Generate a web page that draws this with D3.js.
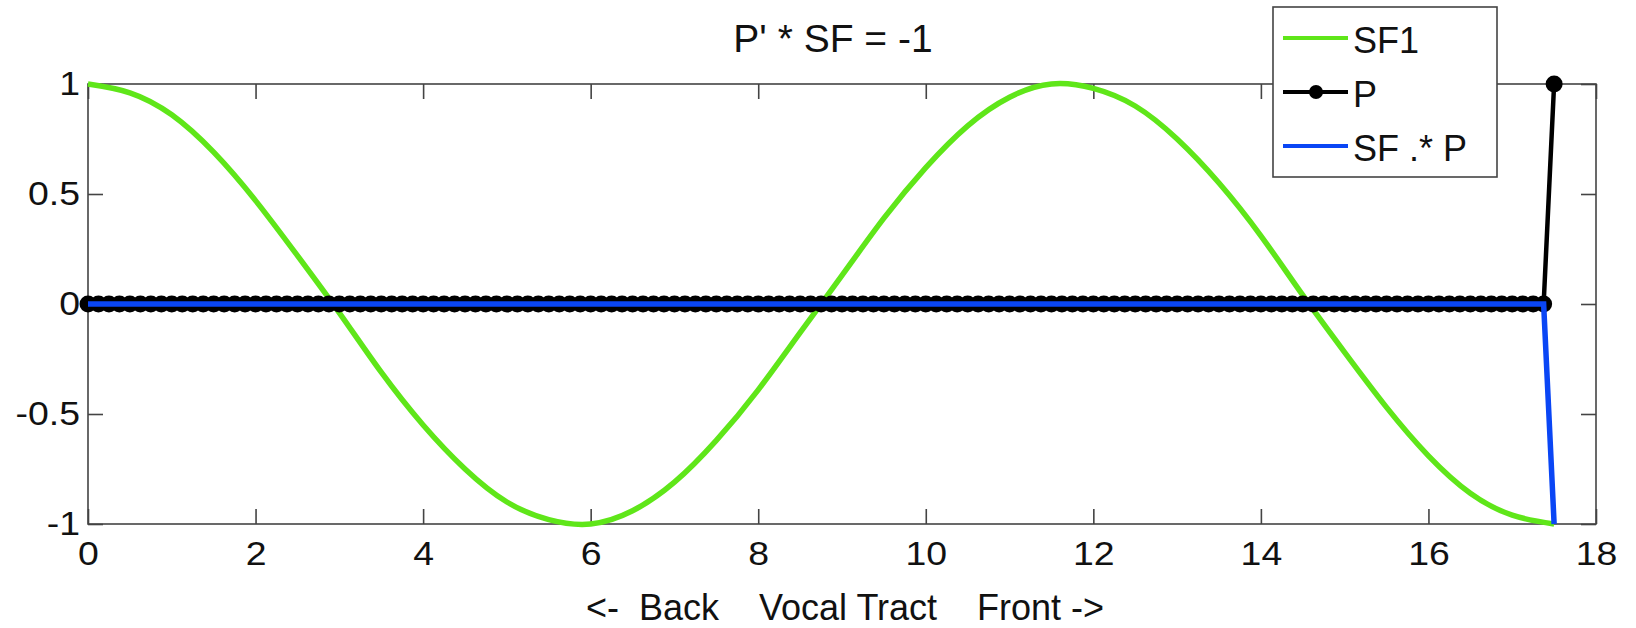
<!DOCTYPE html>
<meta charset="utf-8">
<title>P' * SF = -1</title>
<script src="https://d3js.org/d3.v7.min.js"></script>
<style>
  body { margin: 0; background: #fff; }
  svg text { font-family: "Liberation Sans", Arial, Helvetica, sans-serif; fill: #111; }
</style>
<body>
<svg width="1636" height="628"></svg>
<script>
  // SF1 every 0.5 along the tract
  var sfX = [0, 0.5, 1, 1.5, 2, 2.5, 3, 3.5, 4, 4.5, 5, 5.5, 6, 6.5, 7, 7.5, 8, 8.5,
             9, 9.5, 10, 10.5, 11, 11.5, 12, 12.5, 13, 13.5, 14, 14.5, 15, 15.5, 16, 16.5, 17, 17.5];
  var sf1 = [1, 0.96, 0.86, 0.69, 0.47, 0.22, -0.04, -0.31, -0.55, -0.75, -0.9, -0.98, -1, -0.94, -0.81, -0.62, -0.39, -0.13,
             0.13, 0.39, 0.62, 0.81, 0.94, 1, 0.98, 0.9, 0.75, 0.55, 0.31, 0.04, -0.22, -0.47, -0.69, -0.86, -0.96, -1];

  // P and SF .* P on the sample grid (step 0.125, 141 samples)
  var sampleStep = 0.125;
  var pVals = [0, 0, 0, 0, 0, 0, 0, 0, 0, 0, 0, 0, 0, 0, 0, 0, 0, 0, 0, 0,
               0, 0, 0, 0, 0, 0, 0, 0, 0, 0, 0, 0, 0, 0, 0, 0, 0, 0, 0, 0,
               0, 0, 0, 0, 0, 0, 0, 0, 0, 0, 0, 0, 0, 0, 0, 0, 0, 0, 0, 0,
               0, 0, 0, 0, 0, 0, 0, 0, 0, 0, 0, 0, 0, 0, 0, 0, 0, 0, 0, 0,
               0, 0, 0, 0, 0, 0, 0, 0, 0, 0, 0, 0, 0, 0, 0, 0, 0, 0, 0, 0,
               0, 0, 0, 0, 0, 0, 0, 0, 0, 0, 0, 0, 0, 0, 0, 0, 0, 0, 0, 0,
               0, 0, 0, 0, 0, 0, 0, 0, 0, 0, 0, 0, 0, 0, 0, 0, 0, 0, 0, 0, 1];
  var sfpVals = [0, 0, 0, 0, 0, 0, 0, 0, 0, 0, 0, 0, 0, 0, 0, 0, 0, 0, 0, 0,
                 0, 0, 0, 0, 0, 0, 0, 0, 0, 0, 0, 0, 0, 0, 0, 0, 0, 0, 0, 0,
                 0, 0, 0, 0, 0, 0, 0, 0, 0, 0, 0, 0, 0, 0, 0, 0, 0, 0, 0, 0,
                 0, 0, 0, 0, 0, 0, 0, 0, 0, 0, 0, 0, 0, 0, 0, 0, 0, 0, 0, 0,
                 0, 0, 0, 0, 0, 0, 0, 0, 0, 0, 0, 0, 0, 0, 0, 0, 0, 0, 0, 0,
                 0, 0, 0, 0, 0, 0, 0, 0, 0, 0, 0, 0, 0, 0, 0, 0, 0, 0, 0, 0,
                 0, 0, 0, 0, 0, 0, 0, 0, 0, 0, 0, 0, 0, 0, 0, 0, 0, 0, 0, 0, -1];

  var xTicks = [0, 2, 4, 6, 8, 10, 12, 14, 16, 18];
  var yTicks = [-1, -0.5, 0, 0.5, 1];
  var seriesNames = ["SF1", "P", "SF .* P"];
  var seriesColors = ["#5fe619", "#000000", "#0a46f5"];

  var svg = d3.select("svg");
  var plotLeft = 88, plotRight = 1596, plotTop = 84, plotBottom = 524;

  var x = d3.scaleLinear().domain([0, 18]).range([plotLeft, plotRight]);
  var y = d3.scaleLinear().domain([-1, 1]).range([plotBottom, plotTop]);

  var tickLen = 15, stretch = 1.1;

  // axes, MATLAB style: ticks pointing in on all four sides
  var gx = svg.append("g").attr("transform", "translate(0," + plotBottom + ")")
    .call(d3.axisBottom(x).tickValues(xTicks).tickSizeInner(-tickLen).tickSizeOuter(0).tickPadding(17));
  var gy = svg.append("g").attr("transform", "translate(" + plotLeft + ",0)")
    .call(d3.axisLeft(y).tickValues(yTicks).tickSizeInner(-tickLen).tickSizeOuter(0).tickPadding(8)
      .tickFormat(function (d) { return String(d); }));
  svg.append("g").attr("transform", "translate(0," + plotTop + ")")
    .call(d3.axisTop(x).tickValues(xTicks).tickSizeInner(-tickLen).tickSizeOuter(0).tickFormat(""));
  svg.append("g").attr("transform", "translate(" + plotRight + ",0)")
    .call(d3.axisRight(y).tickValues(yTicks).tickSizeInner(-tickLen).tickSizeOuter(0).tickFormat(""));

  svg.selectAll(".domain").remove();
  svg.selectAll(".tick line").attr("stroke", "#444").attr("stroke-width", 1.6);
  svg.selectAll(".tick text").attr("font-size", 34).attr("fill", "#111");
  gx.selectAll(".tick text").attr("transform", "scale(" + stretch + ",1)");
  gy.selectAll(".tick text").attr("x", -8 / stretch).attr("transform", "scale(" + stretch + ",1)");

  svg.append("rect")
    .attr("x", plotLeft).attr("y", plotTop)
    .attr("width", plotRight - plotLeft).attr("height", plotBottom - plotTop)
    .attr("fill", "none").attr("stroke", "#444").attr("stroke-width", 1.6);

  // lines
  var sfLine = d3.line()
    .x(function (d, i) { return x(sfX[i]); })
    .y(function (d) { return y(d); })
    .curve(d3.curveNatural);
  var gridLine = d3.line()
    .x(function (d, i) { return x(i * sampleStep); })
    .y(function (d) { return y(d); });

  var plot = svg.append("g");
  plot.append("path").datum(sf1)
    .attr("d", sfLine).attr("fill", "none")
    .attr("stroke", seriesColors[0]).attr("stroke-width", 5.5);

  plot.append("path").datum(pVals)
    .attr("d", gridLine).attr("fill", "none")
    .attr("stroke", seriesColors[1]).attr("stroke-width", 4.5);
  plot.selectAll("circle.p").data(pVals).enter().append("circle")
    .attr("class", "p")
    .attr("cx", function (d, i) { return x(i * sampleStep); })
    .attr("cy", function (d) { return y(d); })
    .attr("r", 8.5)
    .attr("fill", seriesColors[1]);

  plot.append("path").datum(sfpVals)
    .attr("d", gridLine).attr("fill", "none")
    .attr("stroke", seriesColors[2]).attr("stroke-width", 5.5);

  // title and x label
  svg.append("text")
    .attr("x", 833).attr("y", 52)
    .attr("text-anchor", "middle").attr("font-size", 39)
    .text("P' * SF = -1");

  svg.append("text")
    .attr("x", 845).attr("y", 620)
    .attr("text-anchor", "middle").attr("font-size", 36)
    .style("white-space", "pre")
    .text("<-  Back    Vocal Tract    Front ->");

  // legend
  var legend = svg.append("g");
  legend.append("rect")
    .attr("x", 1273).attr("y", 7).attr("width", 224).attr("height", 170)
    .attr("fill", "#fff").attr("stroke", "#444").attr("stroke-width", 1.6);

  var rows = legend.selectAll("g.row").data(seriesNames).enter().append("g")
    .attr("class", "row")
    .attr("transform", function (d, i) { return "translate(1283," + (38 + i * 54) + ")"; });
  rows.append("line")
    .attr("x1", 0).attr("x2", 65).attr("y1", 0).attr("y2", 0)
    .attr("stroke", function (d, i) { return seriesColors[i]; })
    .attr("stroke-width", 4);
  rows.filter(function (d, i) { return i === 1; }).append("circle")
    .attr("cx", 33).attr("cy", 0).attr("r", 7).attr("fill", seriesColors[1]);
  rows.append("text")
    .attr("x", 70).attr("y", 15)
    .attr("font-size", 36)
    .style("white-space", "pre")
    .text(function (d) { return d; });
</script>
</body>
